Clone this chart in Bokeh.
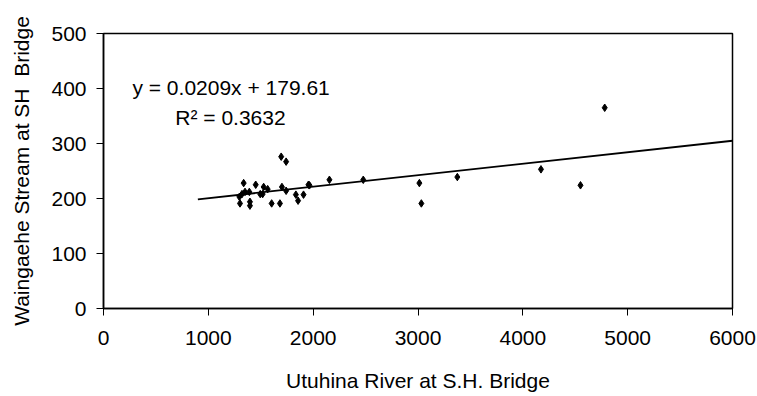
from bokeh.plotting import figure
from bokeh.models import Range1d, FixedTicker, Label
from bokeh.embed import file_html
from bokeh.resources import INLINE

# Data
utuhina = [1695, 1742, 1337, 1452, 1528, 1566, 1702, 1742, 1955, 2155, 2478,
           1296, 1321, 1350, 1391, 1495, 1518, 1302, 1397, 1397, 1604, 1683,
           1835, 1908, 1856, 1965, 3013, 3032, 3375, 4173, 4781, 4550]
waingaehe = [276, 267, 228, 225, 221, 217, 221, 214, 225, 234, 234,
             203, 208, 212, 212, 208, 208, 191, 194, 187, 191, 191,
             207, 207, 196, 224, 228, 191, 239, 253, 365, 224]

slope = 0.0209
intercept = 179.61
r2 = 0.3632
trend_x = [900, 6000]
trend_y = [slope * v + intercept for v in trend_x]

x_ticks = [0, 1000, 2000, 3000, 4000, 5000, 6000]
y_ticks = [0, 100, 200, 300, 400, 500]

FONT = "Liberation Sans"
FS = "21px"

p = figure(width=757, height=396, output_backend="svg", toolbar_location=None,
           x_range=Range1d(0, 6000), y_range=Range1d(0, 500),
           min_border_left=103, min_border_right=25, min_border_top=33,
           min_border_bottom=88)
p.background_fill_color = "white"
p.border_fill_color = "white"
p.outline_line_color = "black"
p.outline_line_width = 1.5
p.grid.visible = False

for ax in (p.xaxis, p.yaxis):
    ax.axis_line_color = "black"
    ax.axis_line_width = 1.5
    ax.major_tick_line_color = "black"
    ax.major_tick_line_width = 1
    ax.minor_tick_line_color = None
    ax.major_tick_out = 7
    ax.major_tick_in = 0
    ax.major_label_text_font = FONT
    ax.major_label_text_font_size = FS
    ax.major_label_text_color = "black"
    ax.axis_label_text_font = FONT
    ax.axis_label_text_font_size = FS
    ax.axis_label_text_font_style = "normal"
    ax.axis_label_text_color = "black"

p.xaxis.ticker = FixedTicker(ticks=x_ticks)
p.yaxis.ticker = FixedTicker(ticks=y_ticks)
p.xaxis.axis_label = "Utuhina River at S.H. Bridge"
p.yaxis.axis_label = "Waingaehe Stream at SH \u00a0Bridge"
p.xaxis.major_label_standoff = 15
p.xaxis.axis_label_standoff = 21
p.yaxis.major_label_standoff = 10
p.yaxis.axis_label_standoff = 15

p.line(trend_x, trend_y, line_color="black", line_width=1.8)
p.scatter(utuhina, waingaehe, marker="diamond", size=7.5, color="black")

p.add_layout(Label(x=276, y=402, text=f"y = {slope}x + {intercept}",
                   text_baseline="alphabetic",
                   text_font=FONT, text_font_size=FS, text_color="black"))
p.add_layout(Label(x=685, y=348, text=f"R\u00b2 = {r2}",
                   text_baseline="alphabetic",
                   text_font=FONT, text_font_size=FS, text_color="black"))

open("out.html", "w").write(file_html(p, INLINE))
